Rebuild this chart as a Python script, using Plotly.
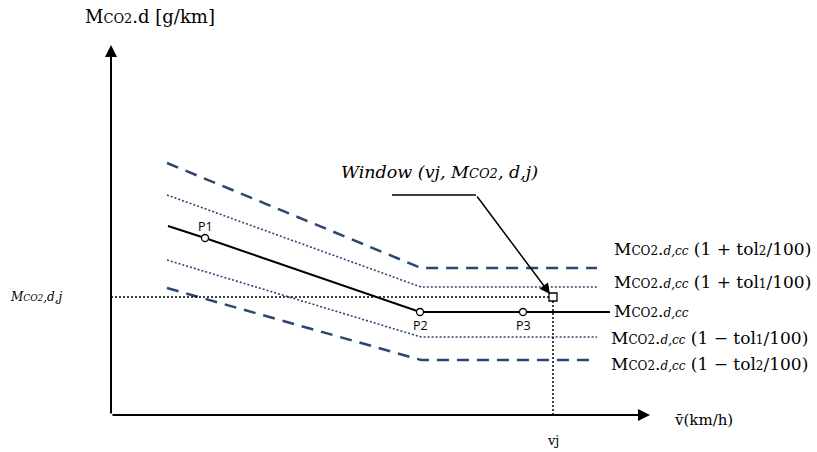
import plotly.graph_objects as go

# ---- data (abstract units: speed on x, CO2 on y; origin at the axes corner) ----
v_band = [56, 310, 486]
m_upper2 = [252, 147, 147]   # (1 + tol2/100)
m_upper1 = [220, 128, 128]   # (1 + tol1/100)
m_lower1 = [155, 78, 78]     # (1 - tol1/100)
m_lower2 = [127, 55, 55]     # (1 - tol2/100)

v_center = [57, 94, 309, 499]
m_center = [189, 177, 103, 103]

pt_names = ["P1", "P2", "P3"]
pt_v = [94, 309, 412]
pt_m = [177, 103, 103]

v_j = 442
m_dj = 118

v_axis_max = 539
m_axis_max = 370

pointer_v = [281, 365]
pointer_m = [220, 220]

NAVY = "#2B4670"
SERIF = "DejaVu Serif"

fig = go.Figure()

def add_line(x, y, color, width, dash):
    fig.add_trace(go.Scatter(x=x, y=y, mode="lines",
                             line=dict(color=color, width=width, dash=dash),
                             hoverinfo="skip", showlegend=False))

add_line(v_band, m_upper2, NAVY, 2.5, "12px,8px")
add_line(v_band, m_lower2, NAVY, 2.5, "12px,8px")
add_line(v_band, m_upper1, NAVY, 1.6, "2px,2px")
add_line(v_band, m_lower1, NAVY, 1.6, "2px,2px")
add_line(v_center, m_center, "black", 2, "solid")

# reference dotted lines to the window point
add_line([0, v_j], [m_dj, m_dj], "black", 1.5, "2px,2px")
add_line([v_j, v_j], [0, m_dj], "black", 1.5, "2px,2px")

# pointer horizontal segment
add_line(pointer_v, pointer_m, "black", 1.3, "solid")

# points
fig.add_trace(go.Scatter(x=pt_v, y=pt_m, mode="markers",
                         marker=dict(symbol="circle", size=7, color="white",
                                     line=dict(color="black", width=1.3)),
                         hoverinfo="skip", showlegend=False))
fig.add_trace(go.Scatter(x=[v_j], y=[m_dj], mode="markers",
                         marker=dict(symbol="square", size=8, color="white",
                                     line=dict(color="black", width=1.3)),
                         hoverinfo="skip", showlegend=False))

# axes arrows
fig.add_annotation(x=0, y=m_axis_max, ax=0, ay=0, xref="x", yref="y", axref="x", ayref="y",
                   showarrow=True, arrowhead=2, arrowsize=1.2, arrowwidth=2, arrowcolor="black", text="")
fig.add_annotation(x=v_axis_max, y=0, ax=0, ay=0, xref="x", yref="y", axref="x", ayref="y",
                   showarrow=True, arrowhead=2, arrowsize=1.2, arrowwidth=2, arrowcolor="black", text="")
# window pointer arrow
fig.add_annotation(x=v_j - 3, y=m_dj + 3, ax=pointer_v[1], ay=pointer_m[1],
                   xref="x", yref="y", axref="x", ayref="y",
                   showarrow=True, arrowhead=2, arrowsize=1.4, arrowwidth=1.5, arrowcolor="black", text="")

def label(x, y, text, size=16, family=SERIF, xanchor="left", color="black"):
    fig.add_annotation(x=x, y=y, xref="x", yref="y", text=text, showarrow=False,
                       xanchor=xanchor, yanchor="middle",
                       font=dict(family=family, size=size, color=color))

# axis titles
label(-28, 399, "M<span style='font-size:13px'>CO2</span>.d [g/km]", size=18)
label(561, -5, "v\u0304(km/h)", size=15)
label(v_j, -25, "vj", size=13, xanchor="center")
label(-103, m_dj, "<i>M<span style='font-size:9px'>CO2</span>,d,j</i>", size=12)

# window title
label(228, 243, "<i>Window (vj, M<span style='font-size:13px'>CO2</span>, d,j)</i>", size=17.5)

# right-side labels
r_lab = [
    (501, 166, "(1 + tol<span style='font-size:12px'>2</span>/100)"),
    (501, 133, "(1 + tol<span style='font-size:12px'>1</span>/100)"),
    (501, 104, ""),
    (498, 77, "(1 \u2212 tol<span style='font-size:12px'>1</span>/100)"),
    (498, 51, "(1 \u2212 tol<span style='font-size:12px'>2</span>/100)"),
]
for x, y, tail in r_lab:
    t = "M<span style='font-size:12px'>CO2</span>.<i><span style='font-size:12px'>d,cc</span></i>"
    if tail:
        t += " " + tail
    label(x, y, t, size=17)

# point labels
for name, x, y in zip(pt_names, pt_v, pt_m):
    dy = 12 if name == "P1" else -13
    label(x, y + dy, name, size=12.5, family="Open Sans", xanchor="center")

fig.update_layout(
    width=817, height=452,
    margin=dict(l=0, r=0, t=0, b=0),
    paper_bgcolor="white", plot_bgcolor="white",
    xaxis=dict(range=[-111, 706], visible=False, fixedrange=True),
    yaxis=dict(range=[-37, 415], visible=False, fixedrange=True),
    showlegend=False,
)

fig.write_html("out.html", config={"displayModeBar": False},
               post_script="document.body.style.margin='0px';")
